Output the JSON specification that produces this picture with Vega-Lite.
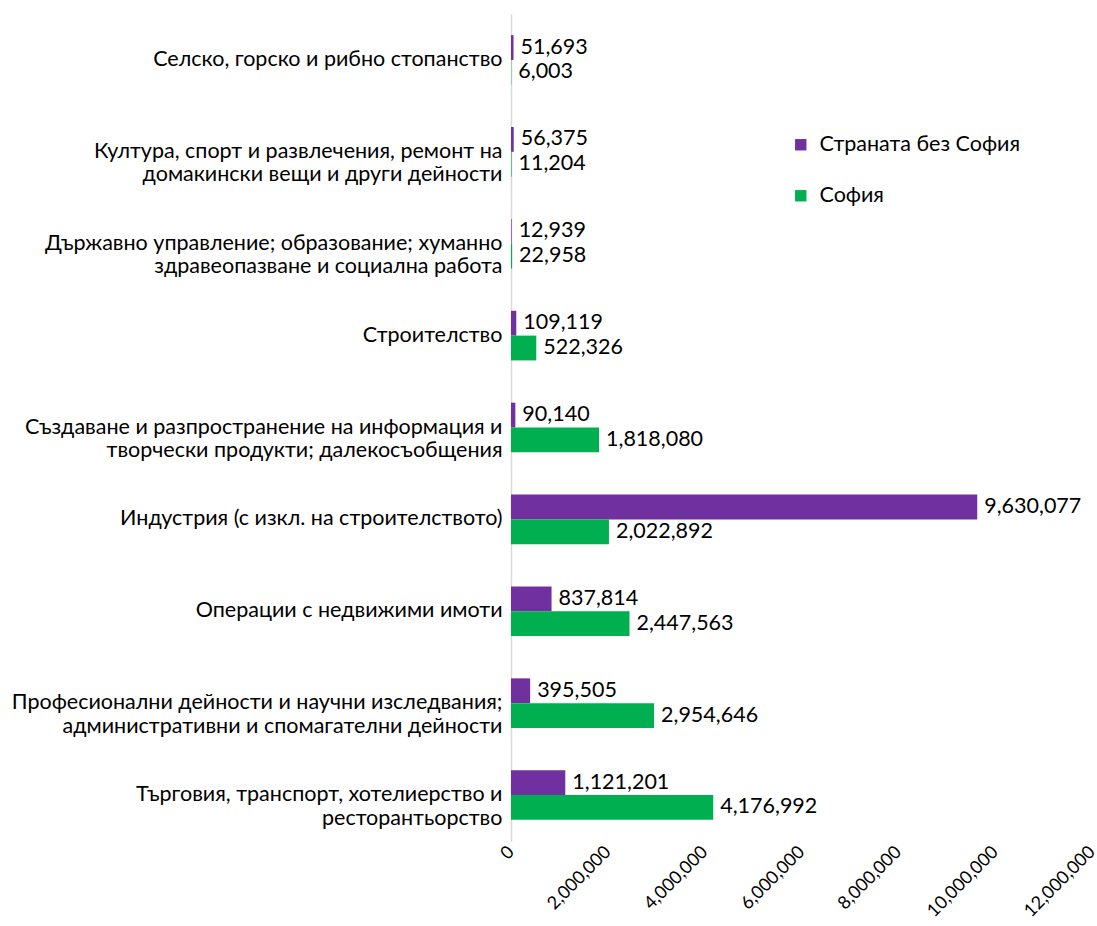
{
  "$schema": "https://vega.github.io/schema/vega-lite/v6.json",
  "width": 581,
  "height": 827,
  "padding": {"left": 11, "top": 14, "right": 5, "bottom": 5},
  "background": "white",
  "config": {
    "font": "Lato",
    "view": {"stroke": null}
  },
  "data": {
    "values": [
      {"cat": "Селско, горско и рибно стопанство", "series": "Страната без София", "value": 51693},
      {"cat": "Селско, горско и рибно стопанство", "series": "София", "value": 6003},
      {"cat": "Култура, спорт и развлечения, ремонт на|домакински вещи и други дейности", "series": "Страната без София", "value": 56375},
      {"cat": "Култура, спорт и развлечения, ремонт на|домакински вещи и други дейности", "series": "София", "value": 11204},
      {"cat": "Държавно управление; образование; хуманно|здравеопазване и социална работа", "series": "Страната без София", "value": 12939},
      {"cat": "Държавно управление; образование; хуманно|здравеопазване и социална работа", "series": "София", "value": 22958},
      {"cat": "Строителство", "series": "Страната без София", "value": 109119},
      {"cat": "Строителство", "series": "София", "value": 522326},
      {"cat": "Създаване и разпространение на информация и|творчески продукти; далекосъобщения", "series": "Страната без София", "value": 90140},
      {"cat": "Създаване и разпространение на информация и|творчески продукти; далекосъобщения", "series": "София", "value": 1818080},
      {"cat": "Индустрия (с изкл. на строителството)", "series": "Страната без София", "value": 9630077},
      {"cat": "Индустрия (с изкл. на строителството)", "series": "София", "value": 2022892},
      {"cat": "Операции с недвижими имоти", "series": "Страната без София", "value": 837814},
      {"cat": "Операции с недвижими имоти", "series": "София", "value": 2447563},
      {"cat": "Професионални дейности и научни изследвания;|административни и спомагателни дейности", "series": "Страната без София", "value": 395505},
      {"cat": "Професионални дейности и научни изследвания;|административни и спомагателни дейности", "series": "София", "value": 2954646},
      {"cat": "Търговия, транспорт, хотелиерство и|ресторантьорство", "series": "Страната без София", "value": 1121201},
      {"cat": "Търговия, транспорт, хотелиерство и|ресторантьорство", "series": "София", "value": 4176992}
    ]
  },
  "encoding": {
    "y": {
      "field": "cat",
      "type": "nominal",
      "sort": null,
      "title": null,
      "scale": {"paddingInner": 0.46, "paddingOuter": 0.23},
      "axis": {
        "labelExpr": "split(datum.label, '|')",
        "labelFontSize": 21.5,
        "labelLineHeight": 23.5,
        "labelColor": "#000000",
        "labelPadding": 9,
        "labelLimit": 700,
        "ticks": false,
        "domainColor": "#d9d9d9",
        "domainWidth": 1.5
      }
    },
    "x": {
      "field": "value",
      "type": "quantitative",
      "title": null,
      "scale": {"domain": [0, 12000000], "nice": false},
      "axis": {
        "values": [0, 2000000, 4000000, 6000000, 8000000, 10000000, 12000000],
        "labelExpr": "format(datum.value, ',')",
        "labelAngle": -45,
        "labelAlign": "right",
        "labelBaseline": "middle",
        "labelFontSize": 18,
        "labelColor": "#000000",
        "labelPadding": 8,
        "labelFlush": false,
        "labelOverlap": false,
        "domain": false,
        "ticks": false,
        "grid": false
      }
    },
    "yOffset": {"field": "series", "type": "nominal", "sort": ["Страната без София", "София"]}
  },
  "layer": [
    {
      "mark": {"type": "bar"},
      "encoding": {
        "color": {
          "field": "series",
          "type": "nominal",
          "sort": ["Страната без София", "София"],
          "scale": {"domain": ["Страната без София", "София"], "range": ["#7030A0", "#00B050"]},
          "legend": {
            "title": null,
            "orient": "none",
            "legendX": 279,
            "legendY": 120,
            "symbolType": "square",
            "symbolSize": 130,
            "symbolStrokeWidth": 0,
            "labelFontSize": 21.5,
            "labelLimit": 400,
            "labelColor": "#000000",
            "rowPadding": 28,
            "labelOffset": 8
          }
        }
      }
    },
    {
      "mark": {"type": "text", "align": "left", "baseline": "middle", "dx": 7, "fontSize": 21.5, "color": "#000000"},
      "encoding": {
        "text": {"field": "value", "type": "quantitative", "format": ","}
      }
    }
  ]
}
